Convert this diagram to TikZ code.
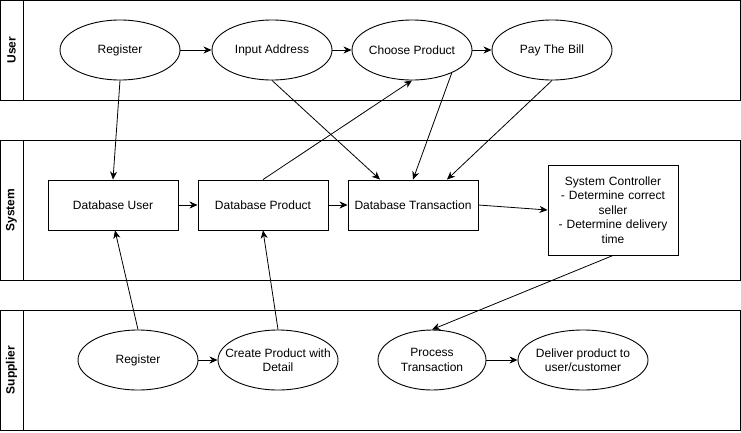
\documentclass[tikz,border=0pt]{standalone}
\usepackage{fontspec}
\setmainfont{Liberation Sans}
\usepackage{xcolor}
\usetikzlibrary{arrows.meta,shapes.geometric}
\definecolor{bg}{HTML}{FFFFFF}
\definecolor{ink}{HTML}{000000}
\tikzset{
  lane/.style={draw=ink, line width=1pt},
  lanelab/.style={text=ink, font=\fontsize{12}{14}\selectfont\bfseries, rotate=90},
  usecase/.style={ellipse, draw=ink, fill=bg, line width=0.9pt, minimum width=120pt, minimum height=60pt, inner sep=0pt},
  uclab/.style={text=ink, align=center, font=\fontsize{12}{14.5}\selectfont},
  dbbox/.style={rectangle, draw=ink, fill=bg, line width=0.9pt, minimum width=130pt, minimum height=50pt, inner sep=0pt, align=center, font=\fontsize{12}{14.5}\selectfont},
  flow/.style={draw=ink, line width=0.8pt, -{Stealth[length=8pt, width=7pt, inset=2.5pt]}},
}

\begin{document}
\begin{tikzpicture}[x=1pt, y=-1pt]
  \useasboundingbox[fill=bg] (0,0) rectangle (741,432);
  % swim lanes
  \draw[lane] (0,0) rectangle (740,100);
  \draw[lane] (23,0) -- (23,100);
  \node[lanelab] at (11.5,50) {User};
  \draw[lane] (0,140) rectangle (740,280);
  \draw[lane] (23,140) -- (23,280);
  \node[lanelab] at (11.5,210) {System};
  \draw[lane] (0,310) rectangle (740,430);
  \draw[lane] (23,310) -- (23,430);
  \node[lanelab] at (11.5,370) {Supplier};

  % user
  \node[usecase, label={[uclab]center:Register}] (uReg) at (120,50) {};
  \node[usecase, label={[uclab]center:Input Address}] (inAddr) at (272,50) {};
  \node[usecase, label={[uclab]center:Choose Product}] (choose) at (412,50) {};
  \node[usecase, label={[uclab]center:Pay The Bill}] (pay) at (552,50) {};

  % system
  \node[dbbox] (dbUser) at (113,205) {Database User};
  \node[dbbox] (dbProd) at (263,205) {Database Product};
  \node[dbbox] (dbTrans) at (413,205) {Database Transaction};
  \node[dbbox, minimum height=90pt, text width=124pt] (sysCtrl) at (613,210)
    {System Controller\\- Determine correct\\seller\\- Determine delivery\\time};

  % supplier
  \node[usecase, label={[uclab]center:Register}] (sReg) at (138,360) {};
  \node[usecase, label={[uclab]center:Create Product with\\Detail}] (create) at (278,360) {};
  \node[usecase, minimum width=108pt, label={[uclab]center:Process\\Transaction}] (proc) at (432,360) {};
  \node[usecase, minimum width=130pt, label={[uclab]center:Deliver product to\\user/customer}] (deliver) at (583,360) {};

  \draw[flow] (uReg) -- (inAddr);
  \draw[flow] (inAddr) -- (choose);
  \draw[flow] (choose) -- (pay);
  \draw[flow] (uReg.south) -- (dbUser.north);
  \draw[flow] (inAddr.south) -- ([xshift=-33pt]dbTrans.north);
  \draw[flow] (choose.-30) -- (dbTrans.north);
  \draw[flow] (pay.south) -- ([xshift=34pt]dbTrans.north);
  \draw[flow] (dbProd.north) -- (choose.south);
  \draw[flow] (dbUser) -- (dbProd);
  \draw[flow] (dbProd) -- (dbTrans);
  \draw[flow] (dbTrans.east) -- (sysCtrl.west);
  \draw[flow] (sysCtrl.south) -- (proc.north);
  \draw[flow] (sReg.north) -- ([xshift=2pt]dbUser.south);
  \draw[flow] (create.north) -- (dbProd.south);
  \draw[flow] (sReg) -- (create);
  \draw[flow] (proc) -- (deliver);
\end{tikzpicture}
\end{document}
